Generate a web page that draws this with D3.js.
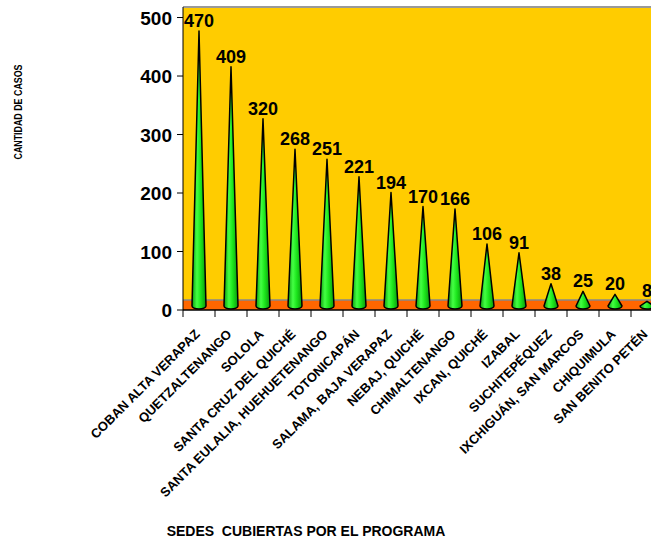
<!DOCTYPE html>
<meta charset="utf-8">
<script src="https://d3js.org/d3.v7.min.js"></script>
<style>
  body { margin: 0; background: #fff; }
  text { font-family: "Liberation Sans", Arial, sans-serif; font-weight: bold; }
</style>
<div id="chart"></div>
<script>
// sedes y cantidad de casos
var sedes = ["COBAN ALTA VERAPAZ", "QUETZALTENANGO", "SOLOLA", "SANTA CRUZ DEL QUICHÉ",
  "SANTA EULALIA, HUEHUETENANGO", "TOTONICAPÁN", "SALAMA, BAJA VERAPAZ", "NEBAJ, QUICHÉ",
  "CHIMALTENANGO", "IXCAN, QUICHÉ", "IZABAL", "SUCHITEPÉQUEZ", "IXCHIGUÁN, SAN MARCOS",
  "CHIQUIMULA", "SAN BENITO PETÉN"];
var casos = [470, 409, 320, 268, 251, 221, 194, 170, 166, 106, 91, 38, 25, 20, 8];
var yTicks = [0, 100, 200, 300, 400, 500];

var W = 651, H = 539;
var plotLeft = 183, plotTop = 7, plotBottom = 310, step = 32;

var svg = d3.select("#chart").append("svg")
  .attr("width", W).attr("height", H);

var x = d3.scaleBand().domain(sedes)
  .range([plotLeft, plotLeft + step * sedes.length]).padding(0);
var y = d3.scaleLinear().domain([0, 518]).range([plotBottom, plotTop]);

// gradient for the cones
var grad = svg.append("defs").append("linearGradient")
  .attr("id", "cone").attr("x1", "0%").attr("x2", "100%");
grad.append("stop").attr("offset", "0%").attr("stop-color", "#0c9c0c");
grad.append("stop").attr("offset", "35%").attr("stop-color", "#44ff44");
grad.append("stop").attr("offset", "60%").attr("stop-color", "#1ee81e");
grad.append("stop").attr("offset", "100%").attr("stop-color", "#0a990a");

// plot background
svg.append("rect")
  .attr("x", plotLeft).attr("y", plotTop)
  .attr("width", W - plotLeft + 20).attr("height", plotBottom - plotTop)
  .attr("fill", "#FFCC00");
svg.append("line")
  .attr("x1", plotLeft).attr("x2", W + 20)
  .attr("y1", plotTop).attr("y2", plotTop)
  .attr("stroke", "#999").attr("stroke-width", 2);

// floor
svg.append("rect")
  .attr("x", plotLeft).attr("y", 300)
  .attr("width", W - plotLeft + 20).attr("height", plotBottom - 300)
  .attr("fill", "#FF6600");
svg.append("line")
  .attr("x1", plotLeft).attr("x2", W + 20)
  .attr("y1", 300).attr("y2", 300)
  .attr("stroke", "#888").attr("stroke-width", 1.5);

// cones
var depth = 4, rx = 7, ry = 3;
svg.append("g").selectAll("path")
  .data(casos)
  .join("path")
  .attr("d", function(d, i) {
    var cx = x(sedes[i]) + x.bandwidth() / 2;
    var by = y(0) - depth, ay = y(d) - depth;
    return "M" + (cx - rx) + "," + by +
      " L" + cx + "," + ay +
      " L" + (cx + rx) + "," + by +
      " A" + rx + "," + ry + " 0 0 1 " + (cx - rx) + "," + by + "Z";
  })
  .attr("fill", "url(#cone)")
  .attr("stroke", "#000")
  .attr("stroke-width", 1.5)
  .attr("stroke-linejoin", "round");

// value labels
svg.append("g").selectAll("text")
  .data(casos)
  .join("text")
  .attr("x", function(d, i) { return x(sedes[i]) + x.bandwidth() / 2; })
  .attr("y", function(d) { return y(d) - depth - 4; })
  .attr("text-anchor", "middle")
  .attr("font-size", "18px")
  .text(function(d) { return d; });

// y axis
svg.append("line")
  .attr("x1", plotLeft).attr("x2", plotLeft)
  .attr("y1", plotTop).attr("y2", plotBottom)
  .attr("stroke", "#000");
svg.append("g").selectAll("line")
  .data(yTicks).join("line")
  .attr("x1", plotLeft - 6).attr("x2", plotLeft)
  .attr("y1", function(d) { return y(d); })
  .attr("y2", function(d) { return y(d); })
  .attr("stroke", "#000");
svg.append("g").selectAll("text")
  .data(yTicks).join("text")
  .attr("x", plotLeft - 11)
  .attr("y", function(d) { return y(d) + 7; })
  .attr("text-anchor", "end")
  .attr("font-size", "19px")
  .text(function(d) { return d; });

// x axis
svg.append("line")
  .attr("x1", plotLeft).attr("x2", W + 20)
  .attr("y1", plotBottom).attr("y2", plotBottom)
  .attr("stroke", "#000").attr("stroke-width", 1.5);
svg.append("g").selectAll("line")
  .data(sedes).join("line")
  .attr("x1", function(d) { return x(d); })
  .attr("x2", function(d) { return x(d); })
  .attr("y1", plotBottom).attr("y2", plotBottom + 7)
  .attr("stroke", "#000");

svg.append("g").selectAll("text")
  .data(sedes).join("text")
  .attr("transform", function(d) {
    return "translate(" + (x(d) + x.bandwidth() / 2 + 1.5) + "," + 335 + ") rotate(-45)";
  })
  .attr("text-anchor", "end")
  .attr("font-size", "13px")
  .text(function(d) { return d; });

// titles
svg.append("text")
  .attr("transform", "translate(22,112) rotate(-90)")
  .attr("text-anchor", "middle")
  .attr("font-size", "11px")
  .attr("textLength", 95)
  .attr("lengthAdjust", "spacingAndGlyphs")
  .text("CANTIDAD DE CASOS");

svg.append("text")
  .attr("x", 306).attr("y", 536)
  .attr("text-anchor", "middle")
  .attr("font-size", "14px")
  .style("white-space", "pre")
  .text("SEDES  CUBIERTAS POR EL PROGRAMA");
</script>
